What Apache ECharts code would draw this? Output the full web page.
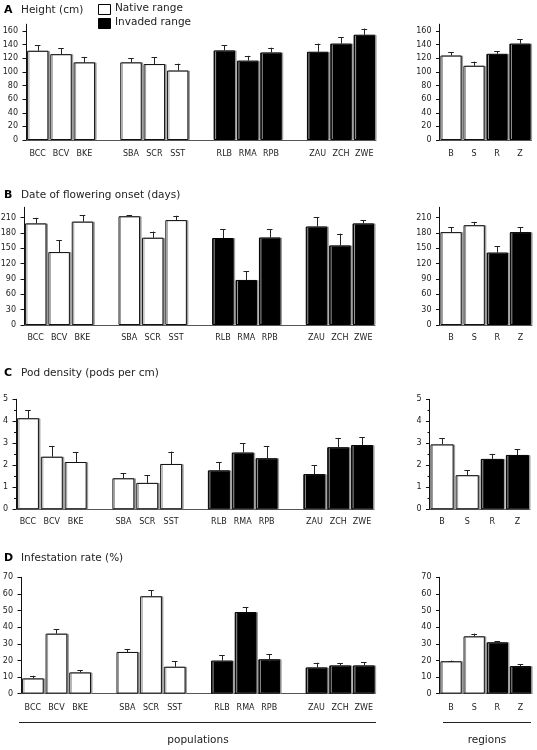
<!DOCTYPE html>
<html>
<head>
<meta charset="utf-8">
<script src="https://cdn.jsdelivr.net/npm/echarts@6/dist/echarts.min.js"></script>
<style>
html,body{margin:0;padding:0;background:#fff;}
#chart{width:537px;height:750px;}
</style>
</head>
<body>
<div id="chart"></div>
<script>
// ---- data ----
const populations = ['BCC','BCV','BKE','SBA','SCR','SST','RLB','RMA','RPB','ZAU','ZCH','ZWE'];
const populationRange = ['native','native','native','native','native','native','invaded','invaded','invaded','invaded','invaded','invaded'];
const regions = ['B','S','R','Z'];
const regionRange = ['native','native','invaded','invaded'];

const heightPop    = [131, 126, 114, 114, 111.5, 102, 131.5, 116.5, 128.5, 129.5, 141.5, 154.5];
const heightPopErr = [8, 9, 8, 6, 10, 10, 7.5, 7, 7, 12, 9, 9];
const heightReg    = [124, 109, 126.5, 141.5];
const heightRegErr = [5, 6, 3.5, 6.5];

const floweringPop    = [198.5, 142.5, 202, 212.5, 170.5, 205, 170, 88, 171, 192.5, 155.5, 198.5];
const floweringPopErr = [11, 23, 12, 1.5, 12, 8.5, 17.5, 17, 16.5, 18, 23, 6.5];
const floweringReg    = [181.5, 195, 141.5, 181.5];
const floweringRegErr = [10, 6.5, 12.5, 10];

const podPop    = [4.14, 2.39, 2.15, 1.41, 1.2, 2.06, 1.77, 2.58, 2.32, 1.6, 2.82, 2.92];
const podPopErr = [0.36, 0.49, 0.44, 0.23, 0.35, 0.56, 0.37, 0.42, 0.56, 0.4, 0.41, 0.35];
const podReg    = [2.95, 1.55, 2.29, 2.47];
const podRegErr = [0.29, 0.23, 0.23, 0.26];

const infestPop    = [9.2, 36.1, 12.8, 25.1, 58.6, 16.2, 19.9, 49.1, 20.7, 15.8, 17.0, 17.0];
const infestPopErr = [1.6, 2.6, 1.2, 1.8, 3.6, 3.2, 3.2, 2.8, 3.0, 2.8, 1.4, 2.0];
const infestReg    = [19.5, 34.5, 30.9, 16.6];
const infestRegErr = [0.4, 1.6, 0.8, 1.0];

const heightTicks = [0, 20, 40, 60, 80, 100, 120, 140, 160];
const floweringTicks = [0, 30, 60, 90, 120, 150, 180, 210];
const podTicks = [0, 1, 2, 3, 4, 5];
const infestTicks = [0, 10, 20, 30, 40, 50, 60, 70];

const panelTitles = ['Height (cm)', 'Date of flowering onset (days)', 'Pod density (pods per cm)', 'Infestation rate (%)'];
const panelLetters = ['A', 'B', 'C', 'D'];
const legendLabels = ['Native range', 'Invaded range'];

// ---- helpers ----
const spacers = [' ', '  ', '   '];
function withGaps(arr, fillFn) {
  const out = [];
  arr.forEach((v, i) => {
    if (i > 0 && i % 3 === 0) out.push(fillFn(Math.floor(i / 3) - 1));
    out.push(v);
  });
  return out;
}
const popAxis = withGaps(populations, k => spacers[k]);
const popRangeAxis = withGaps(populationRange, () => null);

const FONT = 'DejaVu Sans, Verdana, sans-serif';
const TXT = '#222';

const panels = [
  {pop: heightPop, popErr: heightPopErr, reg: heightReg, regErr: heightRegErr, ticks: heightTicks, max: 170, interval: 20,
   top: 24.2, zero: 140, lx: 26, lw: 350, rx: 439.5, rw: 92, xm: 10, titleY: 12},
  {pop: floweringPop, popErr: floweringPopErr, reg: floweringReg, regErr: floweringRegErr, ticks: floweringTicks, max: 230, interval: 30,
   top: 207.3, zero: 325, lx: 24, lw: 351, rx: 439.5, rw: 92.5, xm: 9, titleY: 196.5},
  {pop: podPop, popErr: podPopErr, reg: podReg, regErr: podRegErr, ticks: podTicks, max: 5, interval: 1, minor: true,
   top: 399.3, zero: 509.3, lx: 16, lw: 358, rx: 429.5, rw: 100.5, xm: 9, titleY: 375},
  {pop: infestPop, popErr: infestPopErr, reg: infestReg, regErr: infestRegErr, ticks: infestTicks, max: 70, interval: 10,
   top: 577.3, zero: 693.7, lx: 21, lw: 354.6, rx: 439.5, rw: 92.5, xm: 10, titleY: 560}
];

const grid = [], xAxis = [], yAxis = [], series = [], graphic = [];

function barItem(v, range) {
  if (range === null) return '-';
  const native = range === 'native';
  return {
    value: v,
    itemStyle: {
      color: native ? '#ffffff' : '#000000',
      borderColor: native ? '#111' : '#000',
      borderWidth: 1,
      shadowColor: '#9a9a9a', shadowOffsetX: 1.5, shadowOffsetY: 0, shadowBlur: 0
    }
  };
}

function errRender(params, api) {
  const x = api.value(0), m = api.value(1), e = api.value(2);
  const p0 = api.coord([x, m]);
  const p1 = api.coord([x, m + e]);
  const hw = 2.8;
  const style = {stroke: '#222', lineWidth: 1};
  return {
    type: 'group',
    children: [
      {type: 'line', shape: {x1: Math.round(p0[0]) + 0.5, y1: p0[1], x2: Math.round(p0[0]) + 0.5, y2: p1[1]}, style: style},
      {type: 'line', shape: {x1: p1[0] - hw, y1: Math.round(p1[1]) + 0.5, x2: p1[0] + hw, y2: Math.round(p1[1]) + 0.5}, style: style}
    ]
  };
}

panels.forEach((p, pi) => {
  const height = p.zero - p.top;
  const sides = [
    {x: p.lx, w: p.lw, cats: popAxis, vals: withGaps(p.pop, () => null), errs: withGaps(p.popErr, () => null), ranges: popRangeAxis},
    {x: p.rx, w: p.rw, cats: regions, vals: p.reg, errs: p.regErr, ranges: regionRange}
  ];
  sides.forEach(s => {
    const gi = grid.length;
    grid.push({left: s.x, top: p.top, width: s.w, height: height, containLabel: false, outerBoundsMode: 'none'});
    xAxis.push({
      type: 'category', gridIndex: gi, data: s.cats, boundaryGap: true,
      axisLine: {show: true, lineStyle: {color: '#555', width: 1}},
      axisTick: {show: false},
      axisLabel: {interval: 0, fontSize: 8, color: TXT, fontFamily: FONT, margin: p.xm}
    });
    const needCustom = p.max % p.interval !== 0;
    const ya = {
      type: 'value', gridIndex: gi, min: 0, max: p.max, interval: p.interval,
      splitLine: {show: false},
      axisLine: {show: true, lineStyle: {color: '#111', width: 1}},
      axisTick: {show: true, inside: false, length: 3.5, lineStyle: {color: '#111'}},
      axisLabel: {fontSize: 8, color: TXT, fontFamily: FONT, margin: 8}
    };
    if (needCustom) {
      ya.axisTick.customValues = p.ticks;
      ya.axisLabel.customValues = p.ticks;
    }
    if (p.minor) {
      ya.minorTick = {show: true, splitNumber: 2, length: 2, lineStyle: {color: '#111'}};
    }
    yAxis.push(ya);
    series.push({
      type: 'bar', xAxisIndex: gi, yAxisIndex: gi, barCategoryGap: '8%',
      data: s.vals.map((v, i) => barItem(v, s.ranges[i])),
      animation: false, silent: true
    });
    const errData = [];
    s.vals.forEach((v, i) => { if (v !== null) errData.push([i, v, s.errs[i]]); });
    series.push({
      type: 'custom', xAxisIndex: gi, yAxisIndex: gi, renderItem: errRender,
      data: errData, animation: false, silent: true, z: 5
    });
  });
  graphic.push({type: 'text', left: 4, top: p.titleY - 7, style: {text: panelLetters[pi], font: 'bold 11px ' + FONT, fill: '#000'}});
  graphic.push({type: 'text', left: 21, top: p.titleY - 7, style: {text: panelTitles[pi], font: '10.5px ' + FONT, fill: TXT}});
});

// legend
graphic.push({type: 'rect', shape: {x: 98.5, y: 4.5, width: 12, height: 10}, style: {fill: '#fff', stroke: '#000', lineWidth: 1}});
graphic.push({type: 'rect', shape: {x: 98.5, y: 18.5, width: 12, height: 10}, style: {fill: '#000', stroke: '#000', lineWidth: 1}});
graphic.push({type: 'text', left: 115, top: 3, style: {text: legendLabels[0], font: '10.5px ' + FONT, fill: TXT}});
graphic.push({type: 'text', left: 115, top: 17, style: {text: legendLabels[1], font: '10.5px ' + FONT, fill: TXT}});

// bottom group labels
graphic.push({type: 'line', shape: {x1: 19, y1: 722.5, x2: 376, y2: 722.5}, style: {stroke: '#222', lineWidth: 1}});
graphic.push({type: 'line', shape: {x1: 443, y1: 722.5, x2: 531, y2: 722.5}, style: {stroke: '#222', lineWidth: 1}});
graphic.push({type: 'text', x: 198, y: 740, style: {text: 'populations', font: '10.5px ' + FONT, fill: TXT, textAlign: 'center', textVerticalAlign: 'middle'}});
graphic.push({type: 'text', x: 487, y: 740, style: {text: 'regions', font: '10.5px ' + FONT, fill: TXT, textAlign: 'center', textVerticalAlign: 'middle'}});

const chart = echarts.init(document.getElementById('chart'), null, {renderer: 'canvas'});
chart.setOption({
  backgroundColor: '#fff',
  animation: false,
  grid: grid, xAxis: xAxis, yAxis: yAxis, series: series, graphic: graphic
});
</script>
</body>
</html>
